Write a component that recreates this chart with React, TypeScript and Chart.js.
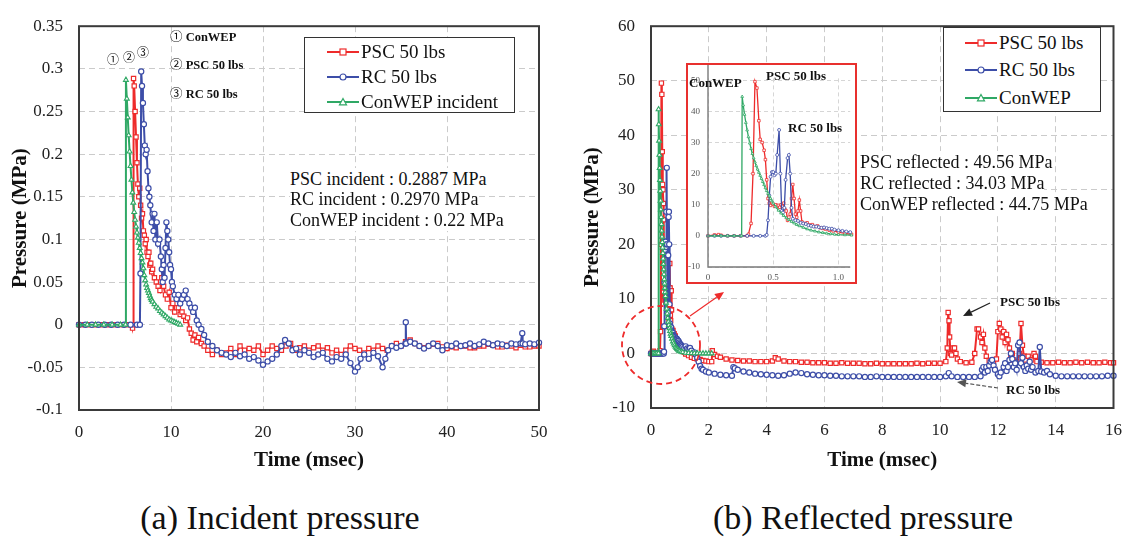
import React, { useEffect, useRef } from 'react';
import { Chart, registerables } from 'chart.js';

Chart.register(...registerables);

const SERIF = '"Liberation Serif", "Times New Roman", serif';
const CIRC = '"Noto Sans CJK JP", "DejaVu Sans", sans-serif';
const RED = '#ee2b2b';
const BLUE = '#3d4ea8';
const GREEN = '#2fa865';
const GRID = '#cbcbcb';

// ---------- tick values ----------
const A_X_TICKS = [0, 10, 20, 30, 40, 50];
const A_Y_TICKS = [-0.1, -0.05, 0, 0.05, 0.1, 0.15, 0.2, 0.25, 0.3, 0.35];
const B_X_TICKS = [0, 2, 4, 6, 8, 10, 12, 14, 16];
const B_Y_TICKS = [-10, 0, 10, 20, 30, 40, 50, 60];
const IN_X_TICKS = [0, 0.5, 1];
const IN_Y_TICKS = [-10, 0, 10, 20, 30, 40, 50];

// ---------- (a) incident pressure ----------
const A_CONWEP_T = [
  0, 0.9, 1.8, 2.7, 3.6, 4.5, 5.05, 5.1, 5.2, 5.3,
  5.4, 5.5, 5.6, 5.7, 5.8, 5.9, 6.0, 6.1, 6.2, 6.3,
  6.4, 6.5, 6.6, 6.7, 6.8, 6.9, 7.0, 7.1, 7.2, 7.3,
  7.4, 7.5, 7.6, 7.7, 7.8, 7.9, 8.0, 8.2, 8.4, 8.6,
  8.8, 9.0, 9.2, 9.4, 9.6, 9.8, 10.0, 10.2, 10.4, 10.6,
  10.8, 11.0,
];
const A_CONWEP_P = [
  0, 0, 0, 0, 0, 0, 0, 0.287, 0.265, 0.243,
  0.222, 0.203, 0.186, 0.17, 0.155, 0.143, 0.132, 0.123, 0.115, 0.108,
  0.102, 0.096, 0.09, 0.084, 0.078, 0.073, 0.066, 0.058, 0.052, 0.047,
  0.043, 0.04, 0.037, 0.034, 0.031, 0.029, 0.027, 0.024, 0.021, 0.019,
  0.016, 0.014, 0.012, 0.01, 0.008, 0.006, 0.005, 0.004, 0.003, 0.002,
  0.001, 0,
];

const A_PSC_T = [
  0, 0.6, 1.2, 1.8, 2.4, 3.0, 3.6, 4.2, 4.8, 5.4,
  5.75, 5.82, 5.88, 5.93, 6.0, 6.1, 6.2, 6.3, 6.4, 6.5,
  6.6, 6.7, 6.8, 6.9, 7.0, 7.1, 7.2, 7.3, 7.4, 7.5,
  7.6, 7.7, 7.8, 7.9, 8.0, 8.2, 8.4, 8.6, 8.8, 9.0,
  9.2, 9.4, 9.6, 9.8, 10.0, 10.2, 10.4, 10.6, 10.8, 11.0,
  11.2, 11.4, 11.6, 11.8, 12.0, 12.2, 12.4, 12.6, 12.8, 13.0,
  13.3, 13.6, 14.0, 14.5, 15.0, 15.5, 16.0, 16.5, 17.0, 17.5,
  18.0, 18.5, 19.0, 19.5, 20.0, 20.5, 21.0, 21.5, 22.0, 22.5,
  23.0, 23.5, 24.0, 24.5, 25.0, 25.5, 26.0, 26.5, 27.0, 27.5,
  28.0, 28.5, 29.0, 29.5, 30.0, 30.5, 31.0, 31.5, 32.0, 32.5,
  33.0, 33.5, 34.0, 34.5, 35.0, 35.5, 36.0, 36.5, 37.0, 37.5,
  38.0, 38.5, 39.0, 39.5, 40.0, 40.5, 41.0, 41.5, 42.0, 42.5,
  43.0, 43.5, 44.0, 44.5, 45.0, 45.5, 46.0, 46.5, 47.0, 47.5,
  48.0, 48.5, 49.0, 49.5, 50.0,
];
const A_PSC_P = [
  0, 0, 0, 0, 0, 0, 0, 0, 0, 0,
  0, -0.004, 0, 0.2887, 0.28, 0.25, 0.22, 0.19, 0.165, 0.15,
  0.16, 0.14, 0.125, 0.13, 0.11, 0.105, 0.095, 0.1, 0.085, 0.08,
  0.085, 0.07, 0.072, 0.062, 0.065, 0.055, 0.05, 0.045, 0.04, 0.055,
  0.045, 0.035, 0.03, 0.038, 0.02, 0.025, 0.015, 0.02, 0.02, 0.012,
  0.015, 0.01, 0.005, 0.008, -0.005, -0.01, -0.018, -0.012, -0.02, -0.015,
  -0.022, -0.025, -0.03, -0.035, -0.03, -0.035, -0.033, -0.028, -0.035, -0.025,
  -0.03, -0.028, -0.03, -0.025, -0.035, -0.03, -0.025, -0.028, -0.03, -0.025,
  -0.022, -0.03, -0.027, -0.025, -0.03, -0.027, -0.025, -0.03, -0.027, -0.033,
  -0.03, -0.035, -0.03, -0.025, -0.028, -0.03, -0.033, -0.028, -0.03, -0.025,
  -0.028, -0.03, -0.025, -0.022, -0.025, -0.02, -0.018, -0.022, -0.025, -0.027,
  -0.025, -0.023, -0.022, -0.026, -0.028, -0.026, -0.027, -0.025, -0.025, -0.027,
  -0.027, -0.025, -0.025, -0.023, -0.024, -0.026, -0.026, -0.024, -0.025, -0.027,
  -0.024, -0.026, -0.026, -0.025, -0.025,
];

const A_RC_T = [
  0, 0.7, 1.4, 2.1, 2.8, 3.5, 4.2, 4.9, 5.6, 6.3,
  6.62, 6.68, 6.76, 6.85, 6.95, 7.05, 7.15, 7.25, 7.35, 7.45,
  7.55, 7.65, 7.75, 7.9, 8.0, 8.1, 8.2, 8.3, 8.45, 8.6,
  8.75, 8.9, 9.0, 9.1, 9.2, 9.3, 9.4, 9.5, 9.6, 9.7,
  9.8, 9.9, 10.0, 10.1, 10.2, 10.4, 10.6, 10.8, 11.0, 11.2,
  11.4, 11.6, 11.8, 12.0, 12.2, 12.4, 12.6, 12.8, 13.0, 13.3,
  13.6, 14.0, 14.5, 15.0, 15.5, 16.0, 16.5, 17.0, 17.5, 18.0,
  18.5, 19.0, 19.5, 20.0, 20.5, 21.0, 21.5, 22.0, 22.4, 22.8,
  23.2, 23.6, 24.0, 24.5, 25.0, 25.5, 26.0, 26.5, 27.0, 27.5,
  28.0, 28.5, 29.0, 29.5, 30.0, 30.3, 30.6, 31.0, 31.5, 32.0,
  32.5, 33.0, 33.3, 33.6, 34.0, 34.5, 35.0, 35.48, 35.52, 35.56,
  36.0, 36.5, 37.0, 37.5, 38.0, 38.5, 39.0, 39.5, 40.0, 40.5,
  41.0, 41.5, 42.0, 42.5, 43.0, 43.5, 44.0, 44.5, 45.0, 45.5,
  46.0, 46.5, 47.0, 47.5, 48.0, 48.18, 48.22, 48.5, 49.0, 49.5,
  50.0,
];
const A_RC_P = [
  0, 0, 0, 0, 0, 0, 0, 0, 0, 0,
  0, 0.06, 0.297, 0.28, 0.26, 0.235, 0.21, 0.2, 0.205, 0.18,
  0.16, 0.15, 0.14, 0.12, 0.13, 0.11, 0.13, 0.1, 0.12, 0.095,
  0.1, 0.08, 0.065, 0.05, 0.07, 0.055, 0.09, 0.12, 0.11, 0.1,
  0.085, 0.07, 0.065, 0.05, 0.045, 0.035, 0.03, 0.035, 0.025, 0.03,
  0.035, 0.04, 0.03, 0.025, 0.02, 0.015, 0.02, 0.005, 0.0, -0.005,
  -0.012, -0.02, -0.025, -0.03, -0.033, -0.035, -0.038, -0.033, -0.037, -0.035,
  -0.04, -0.038, -0.042, -0.047, -0.043, -0.04, -0.035, -0.025, -0.018, -0.022,
  -0.03, -0.028, -0.035, -0.03, -0.033, -0.038, -0.035, -0.033, -0.04, -0.043,
  -0.038, -0.04, -0.035, -0.045, -0.055, -0.05, -0.04, -0.035, -0.04, -0.033,
  -0.037, -0.05, -0.04, -0.03, -0.025, -0.027, -0.025, -0.022, 0.003, -0.022,
  -0.02, -0.022, -0.025, -0.028, -0.025, -0.022, -0.025, -0.03, -0.024, -0.025,
  -0.022, -0.025, -0.024, -0.022, -0.025, -0.023, -0.02, -0.022, -0.024, -0.022,
  -0.023, -0.025, -0.022, -0.023, -0.022, -0.01, -0.022, -0.023, -0.022, -0.023,
  -0.021,
];

// ---------- (b) reflected pressure ----------
const B_CONWEP_T = [
  0, 0.05, 0.1, 0.15, 0.2, 0.258, 0.262, 0.27, 0.28, 0.29,
  0.3, 0.31, 0.32, 0.33, 0.34, 0.35, 0.36, 0.37, 0.38, 0.39,
  0.4, 0.41, 0.42, 0.43, 0.44, 0.45, 0.46, 0.47, 0.48, 0.49,
  0.5, 0.52, 0.54, 0.56, 0.58, 0.6, 0.62, 0.64, 0.66, 0.68,
  0.7, 0.73, 0.76, 0.79, 0.82, 0.85, 0.88, 0.91, 0.94, 0.97,
  1.0, 1.05, 1.1, 1.2, 1.3, 1.4, 1.5, 1.6, 1.7, 1.8,
  1.9, 2.0, 2.1,
];
const B_CONWEP_P = [
  0, 0, 0, 0, 0, 0, 44.75, 42, 39, 36.4,
  34, 31.8, 29.8, 28, 26.4, 25, 23.7, 22.5, 21.4, 20.4,
  19.4, 18.4, 17.4, 16.4, 15.4, 14.5, 13.6, 12.8, 12.0, 11.2,
  10.5, 9.3, 8.2, 7.3, 6.5, 5.8, 5.2, 4.6, 4.1, 3.6,
  3.2, 2.7, 2.2, 1.8, 1.5, 1.2, 1.0, 0.8, 0.65, 0.5,
  0.4, 0.3, 0.22, 0.12, 0.07, 0.04, 0.02, 0.01, 0, 0,
  0, 0, 0,
];

const B_PSC_T = [
  0, 0.05, 0.08, 0.1, 0.15, 0.2, 0.25, 0.3, 0.31, 0.33,
  0.345, 0.36, 0.375, 0.39, 0.4, 0.415, 0.43, 0.44, 0.45, 0.46,
  0.47, 0.48, 0.49, 0.5, 0.51, 0.52, 0.53, 0.54, 0.55, 0.56,
  0.57, 0.58, 0.59, 0.6, 0.61, 0.62, 0.63, 0.64, 0.65, 0.66,
  0.67, 0.68, 0.69, 0.7, 0.71, 0.72, 0.74, 0.76, 0.78, 0.8,
  0.82, 0.84, 0.86, 0.88, 0.9, 0.93, 0.96, 1.0, 1.05, 1.1,
  1.15, 1.2, 1.3, 1.4, 1.5, 1.6, 1.7, 1.8, 1.9, 2.0,
  2.1, 2.12, 2.2, 2.3, 2.4, 2.6, 2.8, 3.0, 3.2, 3.4,
  3.6, 3.8, 4.0, 4.2, 4.3, 4.4, 4.6, 4.8, 5.0, 5.2,
  5.4, 5.6, 5.8, 6.0, 6.2, 6.4, 6.6, 6.8, 7.0, 7.2,
  7.4, 7.6, 7.8, 8.0, 8.2, 8.4, 8.6, 8.8, 9.0, 9.2,
  9.4, 9.6, 9.8, 10.0, 10.2, 10.25, 10.28, 10.31, 10.33, 10.36,
  10.4, 10.45, 10.5, 10.55, 10.6, 10.7, 10.9, 11.1, 11.2, 11.28,
  11.33, 11.4, 11.45, 11.5, 11.55, 11.6, 11.7, 11.85, 11.95, 12.0,
  12.05, 12.1, 12.15, 12.2, 12.25, 12.3, 12.35, 12.4, 12.45, 12.5,
  12.55, 12.65, 12.75, 12.8, 12.85, 12.9, 12.95, 13.05, 13.15, 13.25,
  13.3, 13.35, 13.5, 13.7, 13.9, 14.1, 14.3, 14.5, 14.7, 14.9,
  15.1, 15.3, 15.5, 15.7, 15.9, 16.0,
];
const B_PSC_P = [
  0, 0.3, 0.4, 0.2, 0, 0, 0, 0, 0.5, 4,
  20, 49.56, 47.5, 37, 31, 30, 27.5, 24.5, 18, 12,
  10.5, 9.8, 10.5, 10.2, 9.5, 10, 9.5, 9.8, 9.2, 10,
  9.5, 10.5, 8.5, 8, 5, 6, 7, 12, 16.5, 12,
  7, 6, 8, 11.5, 8, 4.5, 4, 4.2, 3.5, 3.6,
  3, 3.2, 2.6, 2.4, 2.2, 1.8, 1.6, 1.2, 0.8, 0.5,
  0.2, -0.1, -0.4, -0.7, -0.9, -1.0, -1.1, -1.3, -1.4, -1.5,
  -1.5, 0.5, -0.2, -0.5, -0.7, -1.0, -1.2, -1.3, -1.4, -1.4,
  -1.5, -1.5, -1.5, -1.4, -0.8, -1.0, -1.4, -1.5, -1.5, -1.6,
  -1.6, -1.7, -1.7, -1.7, -1.8, -1.8, -1.7, -1.8, -1.8, -1.8,
  -1.9, -1.9, -1.8, -1.9, -1.9, -1.9, -1.9, -1.9, -1.9, -1.8,
  -1.9, -1.8, -1.8, -1.8, -1.5, 1, 7.5, 6, 3, 0,
  -0.3, 1, 1.0, 0, -1.0, -1.5, -1.7, -1.6, 0, 4.5,
  4.5, 3, 2, 3.5, 1, -0.5, -1.3, -1.5, -1.0, 4,
  5.5, 4.5, 3, 4, 2, 3.5, 2.5, 1, -0.5, 0,
  -1.2, -1.5, 0, 5.5, 1.5, -0.5, -1.2, -0.5, -1.2, 0,
  -0.5, -1.5, -1.6, -1.7, -1.7, -1.6, -1.7, -1.7, -1.6, -1.7,
  -1.6, -1.7, -1.7, -1.6, -1.7, -1.7,
];

const B_RC_T = [
  0, 0.05, 0.1, 0.15, 0.2, 0.25, 0.3, 0.35, 0.4, 0.44,
  0.45, 0.46, 0.47, 0.48, 0.49, 0.5, 0.51, 0.52, 0.53, 0.545,
  0.555, 0.565, 0.575, 0.585, 0.595, 0.61, 0.62, 0.63, 0.64, 0.65,
  0.67, 0.69, 0.71, 0.73, 0.75, 0.77, 0.79, 0.81, 0.83, 0.85,
  0.87, 0.89, 0.91, 0.93, 0.95, 0.97, 1.0, 1.03, 1.06, 1.09,
  1.15, 1.2, 1.25, 1.3, 1.35, 1.4, 1.5, 1.55, 1.6, 1.65,
  1.7, 1.75, 1.8, 1.9, 2.0, 2.2, 2.4, 2.6, 2.8, 2.85,
  2.9, 3.0, 3.2, 3.4, 3.6, 3.8, 4.0, 4.2, 4.4, 4.6,
  4.8, 5.0, 5.2, 5.4, 5.6, 5.8, 6.0, 6.2, 6.4, 6.6,
  6.8, 7.0, 7.2, 7.4, 7.6, 7.8, 8.0, 8.2, 8.4, 8.6,
  8.8, 9.0, 9.2, 9.4, 9.6, 9.8, 10.0, 10.2, 10.3, 10.4,
  10.6, 10.8, 11.0, 11.2, 11.4, 11.45, 11.5, 11.55, 11.6, 11.65,
  11.7, 11.75, 11.8, 11.85, 11.9, 12.0, 12.05, 12.1, 12.2, 12.25,
  12.3, 12.35, 12.4, 12.45, 12.5, 12.55, 12.6, 12.65, 12.7, 12.75,
  12.8, 12.85, 12.9, 12.95, 13.0, 13.05, 13.1, 13.15, 13.2, 13.3,
  13.4, 13.45, 13.5, 13.6, 13.7, 13.8, 14.0, 14.2, 14.4, 14.6,
  14.8, 15.0, 15.2, 15.4, 15.6, 15.8, 16.0,
];
const B_RC_P = [
  0, 0, 0, 0, 0, 0, 0, 0, 0, 0,
  0.3, 5, 13, 19, 20.5, 20.5, 19.5, 20, 26, 34.03,
  20, 8, 7.5, 9, 18, 25, 26, 20, 9, 5.5,
  5, 4.8, 4.2, 4, 3.8, 3.4, 3.2, 3, 3, 2.8,
  2.6, 2.7, 2.5, 2.3, 2.3, 2.0, 1.8, 1.6, 1.4, 1.2,
  1.0, 1.3, 0.9, 0.8, 1.0, 0.5, 0.2, -0.2, -0.8, -1.5,
  -2.3, -2.8, -3.0, -3.3, -3.5, -3.7, -3.9, -4.0, -4.1, -2.5,
  -2.7, -3.0, -3.3, -3.5, -3.7, -3.8, -3.9, -4.0, -4.1, -4.0,
  -3.7, -3.5, -3.6, -3.8, -3.9, -4.0, -4.0, -4.1, -4.1, -4.2,
  -4.2, -4.2, -4.2, -4.3, -4.3, -4.2, -4.3, -4.3, -4.3, -4.3,
  -4.3, -4.3, -4.3, -4.3, -4.3, -4.3, -4.3, -4.2, -3.6, -4.2,
  -4.3, -4.3, -4.3, -4.3, -4.2, -3, -2.5, -3.5, -2.5, -3.2,
  -2.2, -1.5, -1.2, -2.2, -3.0, -3.8, -4.2, -3.5, -2.5, -1.8,
  -3.2, -2.5, -1.2, 0, -1.0, -2.5, -1.8, -3, 1.5, 2,
  -1.8, -0.8, -2.5, -3.2, -2.2, -2.8, -1.5, -3.0, -2.5, -3.5,
  -3.2, 1.2, -3.3, -3.5, -3.2, -3.8, -4.1, -4.2, -4.2, -4.2,
  -4.2, -4.2, -4.2, -4.2, -4.2, -4.1, -4.1,
];

// ---------- helpers ----------
function series(label: string, t: number[], p: number[], color: string, style: string, r: number, lw: number, pbw: number, order: number, clip: any) {
  return {
    label,
    data: t.map((x, i) => ({ x, y: p[i] })),
    borderColor: color,
    backgroundColor: '#fff',
    borderWidth: lw,
    pointStyle: style,
    pointRadius: r,
    pointBorderColor: color,
    pointBackgroundColor: '#fff',
    pointBorderWidth: pbw,
    tension: 0,
    order,
    clip,
  };
}

const framePlugin = {
  id: 'frame',
  afterDatasetsDraw(chart: any) {
    const { ctx, chartArea } = chart;
    ctx.save();
    ctx.strokeStyle = '#3a3a3a';
    ctx.lineWidth = 2;
    ctx.strokeRect(chartArea.left, chartArea.top, chartArea.right - chartArea.left, chartArea.bottom - chartArea.top);
    ctx.restore();
  },
};

const insetAxesPlugin = {
  id: 'insetAxes',
  afterDatasetsDraw(chart: any) {
    const { ctx, chartArea } = chart;
    ctx.save();
    ctx.strokeStyle = '#7a7a7a';
    ctx.lineWidth = 1.4;
    ctx.beginPath();
    ctx.moveTo(chartArea.left, 0);
    ctx.lineTo(chartArea.left, chartArea.bottom);
    ctx.lineTo(chartArea.right, chartArea.bottom);
    ctx.stroke();
    ctx.restore();
  },
};

function arrow(ctx: any, x1: number, y1: number, x2: number, y2: number, color: string, w: number, dash: number[]) {
  const ang = Math.atan2(y2 - y1, x2 - x1);
  const hl = 9, hw = 4;
  const bx = x2 - hl * Math.cos(ang), by = y2 - hl * Math.sin(ang);
  ctx.save();
  ctx.strokeStyle = color;
  ctx.fillStyle = color;
  ctx.lineWidth = w;
  ctx.setLineDash(dash);
  ctx.beginPath();
  ctx.moveTo(x1, y1);
  ctx.lineTo(bx, by);
  ctx.stroke();
  ctx.setLineDash([]);
  ctx.beginPath();
  ctx.moveTo(x2, y2);
  ctx.lineTo(bx + hw * Math.sin(ang), by - hw * Math.cos(ang));
  ctx.lineTo(bx - hw * Math.sin(ang), by + hw * Math.cos(ang));
  ctx.closePath();
  ctx.fill();
  ctx.restore();
}

const B_LEFT = 572;
const marksPlugin = {
  id: 'marks',
  afterDraw(chart: any) {
    const ctx = chart.ctx;
    ctx.save();
    ctx.setLineDash([6, 4]);
    ctx.strokeStyle = RED;
    ctx.lineWidth = 1.8;
    ctx.beginPath();
    ctx.arc(661 - B_LEFT, 345, 39, 0, Math.PI * 2);
    ctx.stroke();
    ctx.restore();
    arrow(ctx, 690 - B_LEFT, 316, 724 - B_LEFT, 292, RED, 1.2, []);
    arrow(ctx, 990 - B_LEFT, 303, 963 - B_LEFT, 316, '#222', 1.2, []);
    arrow(ctx, 998 - B_LEFT, 388, 957 - B_LEFT, 382, '#555', 1.2, [4, 2]);
  },
};

const tickFont = { family: SERIF, size: 17 };
const titleFont = { family: SERIF, size: 21, weight: 'bold' };

function mainConfig(p: any) {
  return {
    type: 'line',
    data: { datasets: p.datasets },
    options: {
      animation: false,
      responsive: false,
      maintainAspectRatio: false,
      events: [],
      layout: { padding: p.pad },
      plugins: { legend: { display: false }, tooltip: { enabled: false } },
      scales: {
        x: {
          type: 'linear',
          min: p.xMin,
          max: p.xMax,
          afterBuildTicks: (s: any) => { s.ticks = p.xTicks.map((v: number) => ({ value: v })); },
          afterFit: (s: any) => { s.height = p.xH; },
          ticks: { font: tickFont, color: '#222', padding: 12, maxRotation: 0, autoSkip: false },
          grid: { color: GRID, lineWidth: 1, drawTicks: false },
          border: { display: false, dash: [6, 4] },
          title: { display: true, text: 'Time (msec)', font: titleFont, color: '#111', padding: { top: 0, bottom: 7 } },
        },
        y: {
          type: 'linear',
          min: p.yMin,
          max: p.yMax,
          afterBuildTicks: (s: any) => { s.ticks = p.yTicks.map((v: number) => ({ value: v })); },
          afterFit: (s: any) => { s.width = 79; },
          ticks: { font: tickFont, color: '#222', padding: 16, autoSkip: false, callback: p.fmtY },
          grid: { color: GRID, lineWidth: 1, drawTicks: false },
          border: { display: false, dash: [6, 4] },
          title: { display: true, text: 'Pressure (MPa)', font: titleFont, color: '#111', padding: { top: 8, bottom: 0 } },
        },
      },
    },
    plugins: p.plugins,
  };
}

function insetConfig() {
  const f = { family: SERIF, size: 9 };
  return {
    type: 'line',
    data: {
      datasets: [
        series('PSC 50 lbs', B_PSC_T, B_PSC_P, RED, 'rect', 1.8, 1.3, 0.8, 2, false),
        series('RC 50 lbs', B_RC_T, B_RC_P, BLUE, 'circle', 1.5, 1.3, 0.8, 1, false),
        series('ConWEP', B_CONWEP_T, B_CONWEP_P, GREEN, 'triangle', 1.6, 1.3, 0.8, 0, false),
      ],
    },
    options: {
      animation: false,
      responsive: false,
      maintainAspectRatio: false,
      events: [],
      layout: { padding: { top: 6, right: 0, left: 0, bottom: 0 } },
      plugins: { legend: { display: false }, tooltip: { enabled: false } },
      scales: {
        x: {
          type: 'linear', min: 0, max: 1.09,
          afterBuildTicks: (s: any) => { s.ticks = IN_X_TICKS.map((v) => ({ value: v })); },
          afterFit: (s: any) => { s.height = 15; },
          ticks: { font: f, color: '#555', padding: 5, maxRotation: 0, autoSkip: false },
          grid: { color: '#d6d6d6', lineWidth: 1, drawTicks: false },
          border: { display: false, dash: [4, 3] },
        },
        y: {
          type: 'linear', min: -10, max: 50.6,
          afterBuildTicks: (s: any) => { s.ticks = IN_Y_TICKS.map((v) => ({ value: v })); },
          afterFit: (s: any) => { s.width = 20; },
          ticks: { font: f, color: '#555', padding: 8, autoSkip: false },
          grid: { color: '#d6d6d6', lineWidth: 1, drawTicks: false },
          border: { display: false, dash: [4, 3] },
        },
      },
    },
    plugins: [insetAxesPlugin],
  };
}

// ---------- HTML text helpers ----------
function Txt(props: any) {
  const { x, y, size, bold, family, children, bg } = props;
  const lh = Math.round(size * 1.2);
  return (
    <div style={{
      position: 'absolute', left: x, top: y - lh / 2, height: lh, lineHeight: lh + 'px',
      fontSize: size, fontFamily: family || SERIF, fontWeight: bold ? 'bold' : 'normal',
      whiteSpace: 'nowrap', color: '#111', background: bg || 'transparent',
    }}>{children}</div>
  );
}

function CTxt(props: any) {
  const { cx, y, size, children } = props;
  const lh = Math.round(size * 1.25);
  return (
    <div style={{
      position: 'absolute', left: cx - 300, width: 600, top: y - lh / 2, height: lh, lineHeight: lh + 'px',
      fontSize: size, fontFamily: SERIF, textAlign: 'center', whiteSpace: 'nowrap', color: '#111',
    }}>{children}</div>
  );
}

function Marker({ style, color }: any) {
  if (style === 'rect') return <rect x={13} y={2} width={6} height={6} fill="#fff" stroke={color} strokeWidth={1.2} />;
  if (style === 'triangle') return <polygon points="16,1.5 19.5,7.8 12.5,7.8" fill="#fff" stroke={color} strokeWidth={1.2} />;
  return <circle cx={16} cy={5} r={3} fill="#fff" stroke={color} strokeWidth={1.2} />;
}

function LegendBox(props: any) {
  const { left, top, width, height, rows, lx } = props;
  return (
    <div style={{ position: 'absolute', left, top, width, height, border: '1.5px solid #333', boxSizing: 'border-box', background: '#fff' }}>
      {rows.map((r: any) => (
        <div key={r.label} style={{ position: 'absolute', left: lx, top: r.cy - 12, height: 24, display: 'flex', alignItems: 'center', whiteSpace: 'nowrap' }}>
          <svg width={32} height={10} style={{ display: 'block' }}>
            <line x1={0} y1={5} x2={32} y2={5} stroke={r.color} strokeWidth={2} />
            <Marker style={r.style} color={r.color} />
          </svg>
          <span style={{ marginLeft: 2, fontFamily: SERIF, fontSize: 19, color: '#111', lineHeight: '24px' }}>{r.label}</span>
        </div>
      ))}
    </div>
  );
}

export default function App() {
  const refA = useRef<HTMLCanvasElement>(null);
  const refB = useRef<HTMLCanvasElement>(null);
  const refC = useRef<HTMLCanvasElement>(null);

  useEffect(() => {
    const fmtA = (v: number) => String(Number(Number(v).toFixed(2)));
    const fmtB = (v: number) => String(v);
    const a = new Chart(refA.current as any, mainConfig({
      datasets: [
        series('PSC 50 lbs', A_PSC_T, A_PSC_P, RED, 'rect', 3, 2, 1.2, 2, 6),
        series('RC 50 lbs', A_RC_T, A_RC_P, BLUE, 'circle', 2.6, 2, 1.2, 1, 6),
        series('ConWEP incident', A_CONWEP_T, A_CONWEP_P, GREEN, 'triangle', 2.8, 2, 1.1, 0, 6),
      ],
      xMin: 0, xMax: 50, xTicks: A_X_TICKS,
      yMin: -0.1, yMax: 0.35, yTicks: A_Y_TICKS, fmtY: fmtA,
      pad: { top: 16, right: 21, left: 0, bottom: 0 }, xH: 70,
      plugins: [framePlugin],
    }) as any);
    const b = new Chart(refB.current as any, mainConfig({
      datasets: [
        series('PSC 50 lbs', B_PSC_T, B_PSC_P, RED, 'rect', 3, 2, 1.2, 2, 6),
        series('RC 50 lbs', B_RC_T, B_RC_P, BLUE, 'circle', 2.6, 2, 1.2, 1, 6),
        series('ConWEP', B_CONWEP_T, B_CONWEP_P, GREEN, 'triangle', 2.8, 2, 1.1, 0, 6),
      ],
      xMin: 0, xMax: 16, xTicks: B_X_TICKS,
      yMin: -10, yMax: 60, yTicks: B_Y_TICKS, fmtY: fmtB,
      pad: { top: 13, right: 12, left: 0, bottom: 0 }, xH: 72,
      plugins: [framePlugin, marksPlugin],
    }) as any);
    const c = new Chart(refC.current as any, insetConfig() as any);
    return () => { a.destroy(); b.destroy(); c.destroy(); };
  }, []);

  return (
    <div style={{ position: 'fixed', left: 0, top: 0, width: 1134, height: 540, background: '#fff', overflow: 'hidden' }}>
      <canvas ref={refA} width={560} height={480} style={{ position: 'absolute', left: 0, top: 0, width: 560, height: 480 }} />
      <canvas ref={refB} width={562} height={480} style={{ position: 'absolute', left: B_LEFT, top: 0, width: 562, height: 480 }} />

      {/* (a) annotations */}
      <Txt x={170} y={35} size={12.5} bold><span style={{ fontFamily: CIRC, fontWeight: 'normal' }}>①</span> ConWEP</Txt>
      <Txt x={170} y={63} size={12.5} bold><span style={{ fontFamily: CIRC, fontWeight: 'normal' }}>②</span> PSC 50 lbs</Txt>
      <Txt x={170} y={92} size={12.5} bold><span style={{ fontFamily: CIRC, fontWeight: 'normal' }}>③</span> RC 50 lbs</Txt>
      <Txt x={107} y={59} size={12} family={CIRC}>①</Txt>
      <Txt x={123} y={57} size={12} family={CIRC}>②</Txt>
      <Txt x={137} y={52} size={12} family={CIRC}>③</Txt>
      <Txt x={290} y={179} size={18} bg="#fff">PSC incident : 0.2887 MPa</Txt>
      <Txt x={290} y={199} size={18} bg="#fff">RC incident : 0.2970 MPa</Txt>
      <Txt x={290} y={220} size={18} bg="#fff">ConWEP incident : 0.22 MPa</Txt>
      <LegendBox left={304} top={37} width={211} height={76} lx={22} rows={[
        { label: 'PSC 50 lbs', color: RED, style: 'rect', cy: 14 },
        { label: 'RC 50 lbs', color: BLUE, style: 'circle', cy: 39 },
        { label: 'ConWEP incident', color: GREEN, style: 'triangle', cy: 64 },
      ]} />

      {/* (b) annotations */}
      <LegendBox left={943} top={27} width={158} height={85} lx={21} rows={[
        { label: 'PSC 50 lbs', color: RED, style: 'rect', cy: 15 },
        { label: 'RC 50 lbs', color: BLUE, style: 'circle', cy: 42 },
        { label: 'ConWEP', color: GREEN, style: 'triangle', cy: 70 },
      ]} />
      <Txt x={860} y={162} size={18} bg="#fff">PSC reflected : 49.56 MPa</Txt>
      <Txt x={860} y={183} size={18} bg="#fff">RC reflected : 34.03 MPa</Txt>
      <Txt x={860} y={204} size={18} bg="#fff">ConWEP reflected : 44.75 MPa</Txt>
      <Txt x={1000} y={302} size={13} bold>PSC 50 lbs</Txt>
      <Txt x={1006} y={390} size={13} bold>RC 50 lbs</Txt>

      {/* inset */}
      <div style={{ position: 'absolute', left: 686, top: 63, width: 171, height: 221, border: '2px solid #e8302e', boxSizing: 'border-box', background: '#fff' }}>
        <canvas ref={refC} width={167} height={217} style={{ position: 'absolute', left: 0, top: 0, width: 167, height: 217 }} />
      </div>
      <Txt x={689} y={83} size={13} bold>ConWEP</Txt>
      <Txt x={766} y={76} size={13} bold>PSC 50 lbs</Txt>
      <Txt x={788} y={128} size={13} bold>RC 50 lbs</Txt>

      {/* captions */}
      <CTxt cx={280} y={517} size={34}>(a) Incident pressure</CTxt>
      <CTxt cx={863} y={517} size={34}>(b) Reflected pressure</CTxt>
    </div>
  );
}
